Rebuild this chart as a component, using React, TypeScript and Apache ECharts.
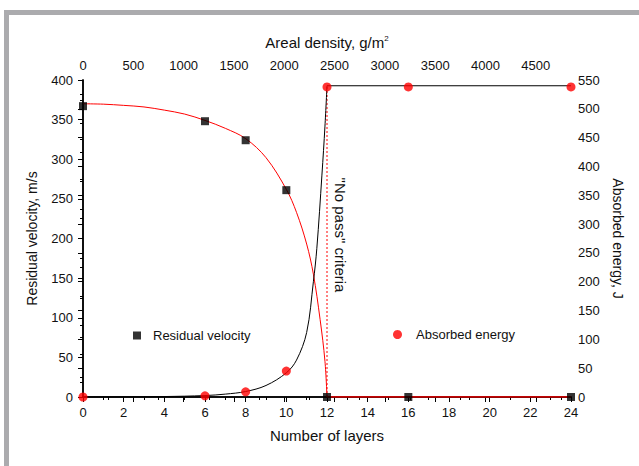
import React, { useEffect, useRef } from "react";
import * as echarts from "echarts";

// Measured points
const layers = [0, 6, 8, 10, 12, 16, 24];
const residualVelocity = [367, 348, 324, 261, 0, 0, 0];
const absorbedEnergy = [0, 2, 9, 45, 538, 538, 538];

// Fitted curve
const velocityFitLayers = [0, 1, 2, 3, 4, 5, 6, 7, 8, 9, 10, 10.5, 11, 11.33, 11.66, 11.9, 12];
const velocityFitValues = [370, 369.5, 368, 366, 362, 357, 349, 339, 326, 302, 262, 233, 193, 155, 98, 45, 0];
const velocityPlateauLayers = [12, 24];
const velocityPlateauValues = [0, 0];

const energyFitLayers = [0, 2, 4, 6, 7, 8, 9, 10, 10.5, 11, 11.33, 11.5, 11.75, 11.9, 12];
const energyFitValues = [0, 0.2, 0.8, 2.5, 5, 9.5, 20, 42, 64, 112, 200, 258, 385, 470, 540];
const energyPlateauLayers = [12, 24];
const energyPlateauValues = [540, 540];

const noPassLayers = [12, 12];
const noPassEnergy = [0, 540];

const FONT = "Liberation Sans, Arial, sans-serif";
const TXT = "#111";

const zip = (xs: number[], ys: number[]) => xs.map((x, i) => [x, ys[i]]);

export default function App() {
  const ref = useRef<HTMLDivElement>(null);
  useEffect(() => {
    if (!ref.current) return;
    const chart = echarts.init(ref.current, undefined, { renderer: "svg" });
    const axisLine = { show: true, lineStyle: { color: "#000", width: 1.5 } };
    const label = { color: TXT, fontSize: 13, fontFamily: FONT, formatter: (v: number) => String(v) };
    const nameStyle = { color: TXT, fontSize: 15, fontFamily: FONT };
    const vNameStyle = { color: TXT, fontSize: 13, fontFamily: FONT };
    const tick = (inside: boolean) => ({
      show: true,
      inside,
      length: 5,
      lineStyle: { color: "#000", width: 1 },
    });
    const minor = { show: true, splitNumber: 2, length: 3, lineStyle: { color: "#000", width: 1 } };
    chart.setOption({
      animation: false,
      backgroundColor: "#fff",
      grid: { left: 83, right: 68, top: 80, bottom: 69, containLabel: false },
      legend: [
        {
          data: [{ name: "Residual velocity", icon: "rect" }],
          left: 128,
          top: 324,
          itemWidth: 8,
          itemHeight: 8,
          selectedMode: false,
          textStyle: { color: TXT, fontSize: 13, fontFamily: FONT, padding: [0, 0, 0, 7] },
        },
        {
          data: [{ name: "Absorbed energy", icon: "circle" }],
          left: 388,
          top: 323,
          itemWidth: 9,
          itemHeight: 9,
          selectedMode: false,
          textStyle: { color: TXT, fontSize: 13, fontFamily: FONT, padding: [0, 0, 0, 9] },
        },
      ],
      xAxis: [
        {
          type: "value",
          position: "bottom",
          min: 0,
          max: 24,
          interval: 2,
          name: "Number of layers",
          nameLocation: "middle",
          nameGap: 31,
          nameTextStyle: nameStyle,
          axisLine,
          axisTick: tick(false),
          minorTick: minor,
          axisLabel: { ...label, margin: 9 },
          splitLine: { show: false },
        },
        {
          type: "value",
          position: "top",
          min: 0,
          max: 4850,
          interval: 500,
          name: "Areal density, g/m{sup|2}",
          nameLocation: "middle",
          nameGap: 30,
          nameTextStyle: {
            ...nameStyle,
            rich: { sup: { fontSize: 8, fontFamily: FONT, color: TXT, verticalAlign: "top", padding: [0, 0, 8, 0] } },
          },
          axisLine,
          axisTick: tick(true),
          minorTick: minor,
          axisLabel: { ...label, margin: 8, showMaxLabel: false },
          splitLine: { show: false },
        },
      ],
      yAxis: [
        {
          type: "value",
          position: "left",
          min: 0,
          max: 400,
          interval: 50,
          name: "Residual velocity, m/s",
          nameLocation: "middle",
          nameGap: 44,
          nameTextStyle: { ...vNameStyle, fontSize: 14 },
          axisLine,
          axisTick: tick(false),
          minorTick: minor,
          axisLabel: { ...label, margin: 10 },
          splitLine: { show: false },
        },
        {
          type: "value",
          position: "right",
          min: 0,
          max: 550,
          interval: 50,
          name: "Absorbed energy, J",
          nameLocation: "middle",
          nameGap: 39,
          nameRotate: -90,
          nameTextStyle: { ...vNameStyle, fontSize: 14 },
          axisLine,
          axisTick: tick(true),
          minorTick: minor,
          axisLabel: { ...label, margin: 7 },
          splitLine: { show: false },
        },
      ],
      graphic: [
        {
          type: "rect",
          silent: true,
          shape: { x: 6.5, y: 12.5, width: 900, height: 900 },
          style: { fill: "none", stroke: "#ababae", lineWidth: 5 },
        },
        {
          type: "text",
          silent: true,
          x: 340,
          y: 235,
          rotation: -Math.PI / 2,
          style: {
            text: '"No pass" criteria',
            fontSize: 15,
            fontFamily: FONT,
            fill: TXT,
            align: "center",
            verticalAlign: "middle",
          },
        },
      ],
      series: [
        {
          type: "line",
          xAxisIndex: 0,
          yAxisIndex: 1,
          data: zip(noPassLayers, noPassEnergy),
          symbol: "none",
          lineStyle: { color: "#ff0000", width: 1, type: [2, 2] },
          z: 1,
        },
        {
          type: "line",
          xAxisIndex: 0,
          yAxisIndex: 0,
          data: zip(velocityFitLayers, velocityFitValues),
          symbol: "none",
          smooth: 0.35,
          lineStyle: { color: "#ff0000", width: 1 },
          z: 2,
        },
        {
          type: "line",
          xAxisIndex: 0,
          yAxisIndex: 0,
          data: zip(velocityPlateauLayers, velocityPlateauValues),
          symbol: "none",
          lineStyle: { color: "#ff0000", width: 1.5 },
          z: 2,
        },
        {
          type: "line",
          xAxisIndex: 0,
          yAxisIndex: 1,
          data: zip(energyFitLayers, energyFitValues),
          symbol: "none",
          smooth: 0.35,
          lineStyle: { color: "#000", width: 1 },
          z: 2,
        },
        {
          type: "line",
          xAxisIndex: 0,
          yAxisIndex: 1,
          data: zip(energyPlateauLayers, energyPlateauValues),
          symbol: "none",
          lineStyle: { color: "#000", width: 1 },
          z: 2,
        },
        {
          name: "Residual velocity",
          type: "scatter",
          xAxisIndex: 0,
          yAxisIndex: 0,
          data: zip(layers, residualVelocity),
          symbol: "rect",
          symbolSize: 8,
          itemStyle: { color: "#000" },
          z: 5,
        },
        {
          name: "Absorbed energy",
          type: "scatter",
          xAxisIndex: 0,
          yAxisIndex: 1,
          data: zip(layers, absorbedEnergy),
          symbol: "circle",
          symbolSize: 9,
          itemStyle: { color: "#ff0000" },
          z: 6,
        },
      ],
    });
    return () => chart.dispose();
  }, []);
  return (
    <div
      ref={ref}
      style={{ position: "absolute", left: 0, top: 0, width: 639, height: 466 }}
    />
  );
}
